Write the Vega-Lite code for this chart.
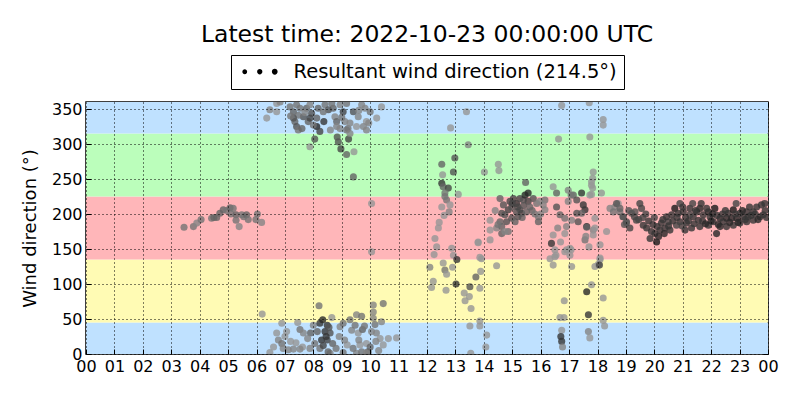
{
  "$schema": "https://vega.github.io/schema/vega-lite/v6.json",
  "width": 682,
  "height": 252,
  "autosize": {"type": "none"},
  "padding": {"left": 86, "top": 102, "right": 32, "bottom": 46},
  "background": "white",
  "title": {
    "text": "Latest time: 2022-10-23 00:00:00 UTC",
    "fontSize": 23.5,
    "fontWeight": "normal",
    "font": "DejaVu Sans",
    "color": "black",
    "anchor": "middle",
    "frame": "group",
    "offset": 8
  },
  "datasets": {
    "bands": [
      {"lo": 0, "hi": 45, "zone": "N"},
      {"lo": 45, "hi": 135, "zone": "E"},
      {"lo": 135, "hi": 225, "zone": "S"},
      {"lo": 225, "hi": 315, "zone": "W"},
      {"lo": 315, "hi": 360, "zone": "N"}
    ],
    "wind": [
      {"h":3.45,"d":181,"s":3},{"h":3.78,"d":182,"s":3},{"h":3.9,"d":187,"s":2},{"h":4.05,"d":192,"s":3},{"h":4.42,"d":194,"s":3},{"h":4.5,"d":195,"s":4},{"h":4.6,"d":195,"s":4},{"h":4.71,"d":201,"s":4},{"h":4.83,"d":206,"s":4},{"h":4.95,"d":205,"s":3},{"h":5.07,"d":209,"s":4},{"h":5.1,"d":200,"s":3},{"h":5.18,"d":208,"s":3},{"h":5.28,"d":199,"s":4},{"h":5.28,"d":191,"s":3},{"h":5.39,"d":182,"s":2},{"h":5.48,"d":199,"s":3},{"h":5.55,"d":196,"s":3},{"h":5.65,"d":199,"s":4},{"h":5.71,"d":192,"s":3},{"h":5.98,"d":192,"s":3},{"h":6.03,"d":200,"s":3},{"h":6.18,"d":188,"s":2},{"h":6.2,"d":57,"s":1},
      {"h":6.89,"d":44,"s":1},{"h":6.71,"d":30,"s":1},{"h":6.77,"d":20,"s":2},{"h":6.89,"d":15,"s":3},{"h":6.94,"d":8,"s":2},{"h":6.47,"d":2,"s":1},{"h":7.06,"d":32,"s":1},{"h":7.12,"d":6,"s":2},{"h":7.3,"d":7,"s":2},{"h":7.39,"d":16,"s":1},{"h":7.53,"d":35,"s":3},{"h":7.65,"d":30,"s":2},{"h":7.62,"d":10,"s":1},{"h":7.9,"d":30,"s":4},{"h":7.88,"d":8,"s":2},{"h":8.0,"d":41,"s":2},{"h":8.14,"d":32,"s":4},{"h":8.23,"d":44,"s":7},{"h":8.33,"d":49,"s":8},{"h":8.49,"d":41,"s":7},{"h":8.41,"d":32,"s":7},{"h":8.29,"d":20,"s":7},{"h":8.49,"d":20,"s":6},{"h":8.59,"d":30,"s":5},{"h":8.68,"d":15,"s":4},{"h":8.23,"d":8,"s":3},{"h":8.59,"d":1,"s":2},{"h":8.65,"d":52,"s":1},{"h":8.91,"d":25,"s":2},{"h":8.94,"d":39,"s":2},{"h":9.05,"d":44,"s":3},{"h":9.19,"d":13,"s":1},{"h":9.29,"d":49,"s":3},{"h":9.35,"d":34,"s":2},{"h":9.52,"d":56,"s":2},{"h":9.47,"d":41,"s":3},{"h":9.58,"d":30,"s":1},{"h":9.7,"d":54,"s":3},{"h":9.73,"d":35,"s":4},{"h":9.87,"d":15,"s":1},{"h":9.64,"d":13,"s":1},{"h":9.93,"d":3,"s":5},{"h":10.11,"d":70,"s":2},{"h":10.46,"d":72,"s":3},{"h":10.11,"d":60,"s":2},{"h":10.11,"d":51,"s":2},{"h":10.17,"d":42,"s":3},{"h":10.05,"d":32,"s":2},{"h":10.22,"d":30,"s":2},{"h":10.4,"d":46,"s":2},{"h":10.35,"d":22,"s":1},{"h":10.64,"d":22,"s":1},{"h":10.93,"d":23,"s":1},{"h":10.46,"d":13,"s":1},{"h":9.52,"d":1,"s":2},{"h":9.7,"d":3,"s":3},{"h":8.2,"d":69,"s":3},{"h":8.52,"d":3,"s":4},{"h":9.05,"d":2,"s":3},{"h":9.87,"d":2,"s":2},{"h":7.53,"d":7,"s":2},{"h":7.0,"d":25,"s":1},{"h":7.2,"d":18,"s":1},{"h":7.8,"d":22,"s":2},{"h":8.05,"d":15,"s":3},{"h":8.35,"d":12,"s":6},{"h":8.45,"d":25,"s":7},{"h":8.55,"d":38,"s":5},{"h":8.8,"d":8,"s":3},{"h":9.1,"d":20,"s":2},{"h":9.4,"d":8,"s":3},{"h":9.6,"d":20,"s":2},{"h":9.8,"d":40,"s":3},{"h":10.0,"d":10,"s":4},{"h":10.3,"d":5,"s":2},{"h":6.6,"d":10,"s":1},{"h":7.45,"d":45,"s":1},{"h":10.2,"d":18,"s":2},
      {"h":6.36,"d":337,"s":1},{"h":6.47,"d":349,"s":2},{"h":6.71,"d":346,"s":1},{"h":6.71,"d":358,"s":1},{"h":7.18,"d":353,"s":3},{"h":7.3,"d":346,"s":4},{"h":7.35,"d":332,"s":4},{"h":7.41,"d":325,"s":5},{"h":7.47,"d":320,"s":3},{"h":7.53,"d":351,"s":3},{"h":7.65,"d":339,"s":5},{"h":7.76,"d":351,"s":4},{"h":7.82,"d":332,"s":4},{"h":7.94,"d":344,"s":5},{"h":8.12,"d":325,"s":8},{"h":8.12,"d":337,"s":4},{"h":8.23,"d":318,"s":6},{"h":8.05,"d":307,"s":5},{"h":7.88,"d":296,"s":1},{"h":8.37,"d":332,"s":7},{"h":8.41,"d":356,"s":3},{"h":8.17,"d":351,"s":4},{"h":8.7,"d":351,"s":4},{"h":8.76,"d":339,"s":2},{"h":8.82,"d":332,"s":4},{"h":8.82,"d":325,"s":2},{"h":8.84,"d":310,"s":5},{"h":8.88,"d":303,"s":5},{"h":8.97,"d":293,"s":6},{"h":9.17,"d":285,"s":4},{"h":9.43,"d":289,"s":1},{"h":9.41,"d":253,"s":4},{"h":9.24,"d":307,"s":6},{"h":9.05,"d":346,"s":6},{"h":9.11,"d":332,"s":2},{"h":9.22,"d":322,"s":3},{"h":9.41,"d":346,"s":5},{"h":9.29,"d":330,"s":2},{"h":9.52,"d":325,"s":1},{"h":9.58,"d":339,"s":2},{"h":9.82,"d":351,"s":2},{"h":9.87,"d":332,"s":1},{"h":9.87,"d":320,"s":2},{"h":10.0,"d":346,"s":3},{"h":10.23,"d":337,"s":1},{"h":10.4,"d":353,"s":1},{"h":9.7,"d":356,"s":2},{"h":9.17,"d":358,"s":3},{"h":8.94,"d":356,"s":2},{"h":8.65,"d":358,"s":3},{"h":7.88,"d":356,"s":2},{"h":7.41,"d":356,"s":3},{"h":6.83,"d":360,"s":2},{"h":7.88,"d":337,"s":6},{"h":7.47,"d":341,"s":3},{"h":7.6,"d":322,"s":4},{"h":8.0,"d":327,"s":3},{"h":7.3,"d":337,"s":5},{"h":8.53,"d":349,"s":5},{"h":9.17,"d":320,"s":3},{"h":9.29,"d":315,"s":2},{"h":9.76,"d":325,"s":2},{"h":8.94,"d":322,"s":2},{"h":8.35,"d":346,"s":3},{"h":7.2,"d":340,"s":3},{"h":7.7,"d":345,"s":2},{"h":8.6,"d":320,"s":2},{"h":9.0,"d":338,"s":3},{"h":9.6,"d":348,"s":2},{"h":9.95,"d":330,"s":2},{"h":10.05,"d":215,"s":1},{"h":10.05,"d":146,"s":1},
      {"h":13.39,"d":346,"s":1},{"h":12.83,"d":323,"s":1},{"h":16.74,"d":355,"s":1},{"h":17.71,"d":359,"s":1},{"h":17.73,"d":310,"s":1},{"h":16.63,"d":307,"s":1},{"h":13.45,"d":299,"s":2},{"h":12.98,"d":280,"s":5},{"h":12.52,"d":271,"s":4},{"h":12.55,"d":256,"s":1},{"h":12.93,"d":260,"s":5},{"h":12.52,"d":244,"s":7},{"h":12.57,"d":239,"s":4},{"h":12.75,"d":237,"s":6},{"h":12.63,"d":230,"s":3},{"h":13.1,"d":228,"s":1},{"h":14.51,"d":271,"s":1},{"h":14.53,"d":262,"s":1},{"h":14.02,"d":260,"s":1},{"h":15.47,"d":245,"s":4},{"h":12.69,"d":220,"s":3},{"h":12.81,"d":213,"s":1},{"h":12.52,"d":210,"s":1},{"h":12.78,"d":203,"s":2},{"h":12.43,"d":188,"s":1},{"h":12.28,"d":165,"s":1},{"h":12.34,"d":153,"s":1},{"h":12.25,"d":142,"s":1},{"h":12.87,"d":151,"s":1},{"h":12.93,"d":141,"s":1},{"h":13.05,"d":135,"s":7},{"h":13.8,"d":160,"s":1},{"h":13.92,"d":136,"s":1},{"h":12.1,"d":124,"s":2},{"h":12.57,"d":130,"s":1},{"h":12.63,"d":120,"s":3},{"h":12.69,"d":114,"s":1},{"h":12.9,"d":124,"s":1},{"h":12.22,"d":104,"s":1},{"h":12.16,"d":95,"s":1},{"h":12.67,"d":91,"s":1},{"h":13.02,"d":100,"s":7},{"h":13.51,"d":96,"s":5},{"h":13.72,"d":110,"s":4},{"h":13.89,"d":118,"s":1},{"h":13.86,"d":94,"s":1},{"h":13.31,"d":87,"s":1},{"h":13.49,"d":82,"s":1},{"h":13.34,"d":76,"s":1},{"h":13.55,"d":65,"s":1},{"h":14.45,"d":126,"s":1},{"h":13.86,"d":47,"s":1},{"h":13.86,"d":40,"s":1},{"h":13.51,"d":40,"s":1},{"h":14.1,"d":27,"s":1},{"h":14.07,"d":10,"s":1},{"h":13.54,"d":1,"s":1},{"h":12.63,"d":225,"s":3},{"h":12.6,"d":198,"s":1},{"h":12.4,"d":180,"s":1},
      {"h":14.57,"d":222,"s":4},{"h":14.69,"d":213,"s":5},{"h":14.63,"d":201,"s":5},{"h":14.57,"d":189,"s":4},{"h":14.22,"d":191,"s":1},{"h":14.22,"d":177,"s":1},{"h":14.45,"d":180,"s":2},{"h":14.63,"d":182,"s":4},{"h":14.8,"d":189,"s":5},{"h":14.74,"d":199,"s":5},{"h":14.86,"d":206,"s":6},{"h":14.92,"d":218,"s":6},{"h":15.04,"d":222,"s":6},{"h":14.98,"d":210,"s":5},{"h":15.15,"d":215,"s":7},{"h":15.15,"d":203,"s":5},{"h":15.27,"d":222,"s":6},{"h":15.39,"d":220,"s":5},{"h":15.45,"d":227,"s":8},{"h":15.56,"d":230,"s":8},{"h":15.56,"d":218,"s":6},{"h":15.62,"d":210,"s":4},{"h":15.74,"d":222,"s":5},{"h":15.86,"d":215,"s":3},{"h":15.97,"d":218,"s":2},{"h":15.27,"d":206,"s":5},{"h":14.98,"d":194,"s":5},{"h":15.1,"d":189,"s":4},{"h":15.33,"d":201,"s":6},{"h":15.5,"d":203,"s":4},{"h":15.92,"d":196,"s":3},{"h":15.92,"d":189,"s":4},{"h":16.15,"d":206,"s":2},{"h":16.15,"d":220,"s":3},{"h":16.09,"d":213,"s":2},{"h":14.86,"d":175,"s":3},{"h":14.63,"d":172,"s":4},{"h":14.22,"d":163,"s":1},{"h":13.8,"d":159,"s":1},{"h":13.86,"d":138,"s":1},{"h":16.56,"d":230,"s":4},{"h":16.56,"d":210,"s":5},{"h":16.68,"d":199,"s":4},{"h":16.85,"d":194,"s":3},{"h":16.91,"d":182,"s":2},{"h":16.85,"d":172,"s":1},{"h":16.44,"d":170,"s":1},{"h":16.38,"d":158,"s":7},{"h":16.5,"d":149,"s":1},{"h":16.91,"d":149,"s":1},{"h":16.5,"d":139,"s":1},{"h":17.03,"d":141,"s":1},{"h":16.97,"d":234,"s":2},{"h":17.15,"d":227,"s":4},{"h":17.27,"d":220,"s":5},{"h":17.44,"d":230,"s":7},{"h":17.5,"d":213,"s":7},{"h":17.56,"d":206,"s":7},{"h":17.44,"d":201,"s":4},{"h":17.27,"d":201,"s":5},{"h":17.09,"d":191,"s":2},{"h":17.32,"d":189,"s":5},{"h":17.62,"d":182,"s":8},{"h":17.85,"d":177,"s":2},{"h":17.85,"d":170,"s":1},{"h":17.91,"d":194,"s":1},{"h":17.79,"d":246,"s":1},{"h":17.83,"d":237,"s":1},{"h":17.73,"d":227,"s":1},{"h":18.14,"d":230,"s":1},{"h":18.32,"d":175,"s":1},{"h":17.56,"d":163,"s":3},{"h":18.09,"d":156,"s":1},{"h":17.03,"d":151,"s":1},{"h":18.44,"d":208,"s":2},{"h":18.61,"d":210,"s":2},{"h":18.73,"d":215,"s":1},{"h":18.79,"d":203,"s":3},{"h":18.9,"d":196,"s":4},{"h":19.02,"d":187,"s":4},{"h":18.09,"d":137,"s":1},{"h":16.44,"d":239,"s":1},{"h":14.74,"d":175,"s":2},{"h":14.5,"d":185,"s":3},{"h":14.4,"d":205,"s":2},{"h":15.0,"d":215,"s":6},{"h":15.2,"d":210,"s":6},{"h":15.4,"d":212,"s":5},{"h":15.7,"d":205,"s":4},{"h":15.8,"d":200,"s":3},{"h":16.0,"d":200,"s":2},{"h":15.35,"d":195,"s":4},{"h":15.2,"d":196,"s":5},{"h":16.33,"d":136,"s":1},{"h":16.54,"d":141,"s":1},{"h":16.44,"d":127,"s":1},{"h":17.09,"d":125,"s":1},{"h":16.85,"d":146,"s":1},{"h":17.07,"d":149,"s":1},{"h":17.59,"d":168,"s":2},{"h":17.91,"d":180,"s":1},{"h":17.85,"d":260,"s":1},{"h":17.83,"d":251,"s":1},{"h":17.79,"d":241,"s":1},{"h":17.79,"d":228,"s":1},{"h":17.62,"d":181,"s":4},{"h":17.7,"d":153,"s":1},{"h":17.62,"d":89,"s":8},{"h":17.79,"d":99,"s":1},{"h":17.68,"d":56,"s":7},{"h":17.68,"d":32,"s":2},{"h":17.73,"d":23,"s":1},{"h":16.74,"d":34,"s":1},{"h":16.71,"d":25,"s":7},{"h":16.74,"d":18,"s":7},{"h":16.77,"d":10,"s":2},{"h":16.68,"d":52,"s":1},{"h":16.82,"d":52,"s":1},{"h":16.83,"d":76,"s":1},{"h":17.91,"d":125,"s":1},{"h":18.03,"d":128,"s":1},{"h":16.97,"d":218,"s":2},{"h":17.07,"d":227,"s":3},{"h":18.09,"d":135,"s":1},{"h":18.07,"d":127,"s":6},{"h":18.2,"d":335,"s":1},{"h":18.2,"d":327,"s":1},{"h":18.2,"d":80,"s":1},{"h":18.2,"d":48,"s":1},{"h":18.25,"d":40,"s":1},{"h":16.6,"d":180,"s":2},{"h":16.7,"d":160,"s":1},
      {"h":18.67,"d":215,"s":5},{"h":18.79,"d":208,"s":4},{"h":18.56,"d":203,"s":3},{"h":18.9,"d":196,"s":5},{"h":19.02,"d":189,"s":5},{"h":19.14,"d":180,"s":6},{"h":19.2,"d":201,"s":5},{"h":19.32,"d":203,"s":5},{"h":19.49,"d":215,"s":6},{"h":19.55,"d":208,"s":6},{"h":19.37,"d":191,"s":6},{"h":19.61,"d":184,"s":7},{"h":19.73,"d":180,"s":7},{"h":19.9,"d":175,"s":7},{"h":20.08,"d":160,"s":9},{"h":20.02,"d":172,"s":7},{"h":20.2,"d":177,"s":7},{"h":20.37,"d":180,"s":7},{"h":20.25,"d":187,"s":7},{"h":20.49,"d":189,"s":6},{"h":20.43,"d":196,"s":7},{"h":20.61,"d":199,"s":7},{"h":20.55,"d":177,"s":7},{"h":20.72,"d":208,"s":9},{"h":20.9,"d":215,"s":6},{"h":20.84,"d":201,"s":7},{"h":21.02,"d":203,"s":7},{"h":20.9,"d":189,"s":7},{"h":20.78,"d":184,"s":6},{"h":21.13,"d":187,"s":7},{"h":21.25,"d":208,"s":7},{"h":21.37,"d":196,"s":7},{"h":21.25,"d":199,"s":6},{"h":21.49,"d":203,"s":7},{"h":21.6,"d":208,"s":8},{"h":21.55,"d":191,"s":7},{"h":21.72,"d":199,"s":7},{"h":21.9,"d":203,"s":8},{"h":21.84,"d":208,"s":7},{"h":21.96,"d":196,"s":7},{"h":22.13,"d":208,"s":9},{"h":22.07,"d":189,"s":7},{"h":22.19,"d":172,"s":8},{"h":22.31,"d":194,"s":8},{"h":22.42,"d":189,"s":7},{"h":22.54,"d":194,"s":8},{"h":22.6,"d":201,"s":7},{"h":22.78,"d":206,"s":9},{"h":22.72,"d":194,"s":8},{"h":22.9,"d":194,"s":8},{"h":23.01,"d":201,"s":7},{"h":23.13,"d":196,"s":7},{"h":23.25,"d":203,"s":7},{"h":23.3,"d":196,"s":7},{"h":23.48,"d":203,"s":7},{"h":23.6,"d":210,"s":7},{"h":23.77,"d":213,"s":7},{"h":23.89,"d":215,"s":7},{"h":23.83,"d":199,"s":7},{"h":23.72,"d":196,"s":7},{"h":23.48,"d":191,"s":7},{"h":23.25,"d":189,"s":7},{"h":23.01,"d":187,"s":7},{"h":22.78,"d":184,"s":7},{"h":22.54,"d":182,"s":7},{"h":22.31,"d":182,"s":8},{"h":21.9,"d":184,"s":7},{"h":21.6,"d":182,"s":7},{"h":21.31,"d":180,"s":7},{"h":21.08,"d":177,"s":7},{"h":20.98,"d":183,"s":6},{"h":19.3,"d":196,"s":6},{"h":19.45,"d":192,"s":6},{"h":19.6,"d":195,"s":6},{"h":19.8,"d":190,"s":7},{"h":19.95,"d":185,"s":7},{"h":20.1,"d":182,"s":7},{"h":20.3,"d":192,"s":7},{"h":20.5,"d":183,"s":7},{"h":20.65,"d":190,"s":7},{"h":20.8,"d":195,"s":7},{"h":21.0,"d":210,"s":7},{"h":21.1,"d":195,"s":7},{"h":21.2,"d":190,"s":7},{"h":21.4,"d":186,"s":7},{"h":21.45,"d":205,"s":7},{"h":21.7,"d":190,"s":7},{"h":21.8,"d":186,"s":8},{"h":22.0,"d":190,"s":8},{"h":22.05,"d":200,"s":8},{"h":22.2,"d":198,"s":7},{"h":22.25,"d":185,"s":8},{"h":22.4,"d":200,"s":7},{"h":22.5,"d":205,"s":7},{"h":22.65,"d":188,"s":8},{"h":22.85,"d":200,"s":7},{"h":22.95,"d":188,"s":8},{"h":23.1,"d":205,"s":8},{"h":23.2,"d":192,"s":7},{"h":23.4,"d":198,"s":7},{"h":23.55,"d":200,"s":7},{"h":23.65,"d":192,"s":8},{"h":23.9,"d":205,"s":7},{"h":23.95,"d":195,"s":7},{"h":20.0,"d":195,"s":6},{"h":19.1,"d":205,"s":5},{"h":18.95,"d":185,"s":5},{"h":19.7,"d":200,"s":6},{"h":20.35,"d":172,"s":8},{"h":21.35,"d":215,"s":6},{"h":21.65,"d":215,"s":7},{"h":23.35,"d":210,"s":7},{"h":22.88,"d":215,"s":6},{"h":20.15,"d":168,"s":8},{"h":19.85,"d":165,"s":7}
    ]
  },
  "layer": [
    {
      "data": {"name": "bands"},
      "mark": {"type": "rect"},
      "encoding": {
        "y": {
          "field": "lo",
          "type": "quantitative",
          "scale": {"domain": [0, 360], "nice": false, "zero": true},
          "axis": {
            "title": "Wind direction (°)",
            "values": [0, 50, 100, 150, 200, 250, 300, 350],
            "grid": true,
            "zindex": 1,
            "titlePadding": 12
          }
        },
        "y2": {"field": "hi"},
        "fill": {
          "field": "zone",
          "type": "nominal",
          "scale": {"domain": ["N", "E", "S", "W"], "range": ["#bfe1ff", "#fffbb4", "#ffb6b9", "#bbfebb"]},
          "legend": null
        }
      }
    },
    {
      "data": {"name": "wind"},
      "mark": {"type": "point", "filled": true, "size": 50, "opacity": 0.8, "strokeWidth": 0, "clip": true},
      "encoding": {
        "x": {
          "field": "h",
          "type": "quantitative",
          "scale": {"domain": [0, 24], "nice": false},
          "axis": {
            "title": null,
            "values": [0,1,2,3,4,5,6,7,8,9,10,11,12,13,14,15,16,17,18,19,20,21,22,23,24],
            "labelExpr": "datum.value == 24 ? '00' : (datum.value < 10 ? '0' + datum.value : '' + datum.value)",
            "labelOverlap": false,
            "labelFlush": false,
            "grid": true,
            "zindex": 1
          }
        },
        "y": {"field": "d", "type": "quantitative", "axis": null},
        "color": {
          "field": "s",
          "type": "quantitative",
          "scale": {"domain": [0, 10], "range": ["#a8a8a8", "#0a0a0a"]},
          "legend": null
        }
      }
    },
    {
      "data": {"values": [{}]},
      "mark": {"type": "point", "filled": true, "opacity": 0},
      "encoding": {
        "x": {"datum": 0, "type": "quantitative", "axis": {"orient": "top", "labels": false, "grid": false, "title": null, "values": [0,1,2,3,4,5,6,7,8,9,10,11,12,13,14,15,16,17,18,19,20,21,22,23,24]}},
        "y": {"datum": 0, "type": "quantitative", "axis": {"orient": "right", "labels": false, "grid": false, "title": null, "values": [0, 50, 100, 150, 200, 250, 300, 350]}},
        "color": {
          "datum": "Resultant wind direction (214.5°)",
          "type": "nominal",
          "scale": {"range": ["black"]},
          "legend": {
            "title": null,
            "orient": "none",
            "legendX": 145,
            "legendY": -47,
            "strokeColor": "black",
            "fillColor": "white",
            "padding": 7,
            "cornerRadius": 0,
            "labelFont": "DejaVu Sans",
            "labelFontSize": 19.5,
            "labelColor": "black",
            "labelLimit": 500,
            "labelOffset": 36,
            "symbolSize": 256,
            "symbolOpacity": 1,
            "symbolFillColor": "black",
            "symbolStrokeWidth": 0,
            "symbolType": "M-0.675,0A0.3,0.3,0,1,0,-0.075,0A0.3,0.3,0,1,0,-0.675,0ZM1.17,0A0.33,0.33,0,1,0,1.83,0A0.33,0.33,0,1,0,1.17,0ZM3.015,0A0.36,0.36,0,1,0,3.735,0A0.36,0.36,0,1,0,3.015,0Z"
          }
        }
      }
    }
  ],
  "resolve": {
    "axis": {"x": "independent", "y": "independent"},
    "scale": {"color": "independent"}
  },
  "config": {
    "font": "DejaVu Sans",
    "view": {"stroke": "black", "strokeWidth": 1.5},
    "axis": {
      "domain": false,
      "tickColor": "black",
      "tickSize": -5,
      "tickWidth": 1,
      "labelFont": "DejaVu Sans",
      "labelFontSize": 16,
      "labelColor": "black",
      "labelPadding": 9,
      "gridColor": "black",
      "gridDash": [1, 3],
      "gridOpacity": 1,
      "gridWidth": 1,
      "titleFont": "DejaVu Sans",
      "titleFontSize": 18,
      "titleFontWeight": "normal",
      "titleColor": "black",
      "titlePadding": 8
    }
  }
}
